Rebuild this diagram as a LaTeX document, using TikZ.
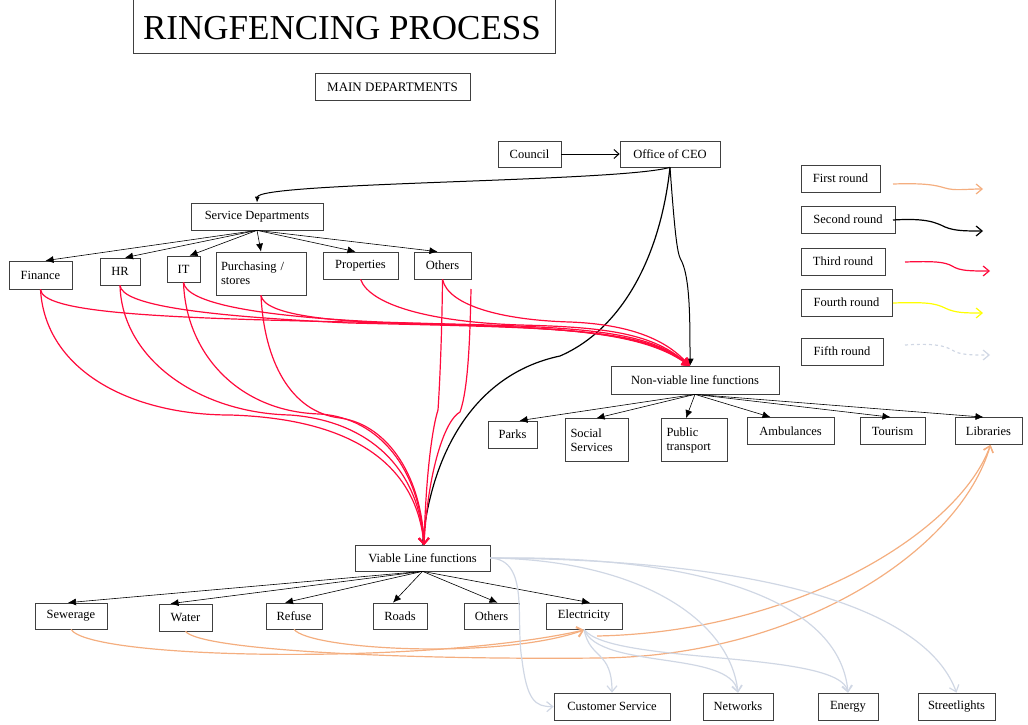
\documentclass[tikz,border=0pt]{standalone}
\usepackage{fontspec}
\setmainfont{Liberation Serif}
\usetikzlibrary{arrows.meta}
\definecolor{rcol}{HTML}{FF0A3C}
\definecolor{ocol}{HTML}{F4AE7F}
\definecolor{gcol}{HTML}{D0D7E4}
\definecolor{ycol}{HTML}{FFFF00}
\definecolor{bcol}{HTML}{404040}
\begin{document}
\begin{tikzpicture}[x=1pt,y=-1pt,
  box/.style={draw=bcol, line width=0.7pt, inner sep=2pt, font=\fontsize{12.5}{14}\selectfont, minimum height=27pt},
  tree/.style={line width=0.6pt, -{Latex[length=8pt,width=7pt]}},
  blk/.style={line width=1pt, -{Straight Barb[length=5pt,width=9pt]}},
  red/.style={rcol, line width=1.2pt},
  redv/.style={red, -{Straight Barb[length=6pt,width=10pt]}},
  redn/.style={red, -{Triangle[length=8pt,width=9pt]}},
  org/.style={ocol, line width=1.2pt, -{Straight Barb[length=6pt,width=10pt]}},
  gry/.style={gcol, line width=1.2pt, -{Straight Barb[length=6pt,width=10pt]}}]
\useasboundingbox (0,0) rectangle (1028,725);
% title
\draw[bcol, line width=0.8pt] (133,-3) -- (133,53) -- (555,53) -- (555,-3);
\node[font=\fontsize{35}{40}\selectfont] (title) at (342,28) {RINGFENCING PROCESS};
\node[box, minimum width=155, font=\fontsize{13}{15}\selectfont] (main) at (392.5,87) {MAIN DEPARTMENTS};
% top
\node[box, minimum width=63, minimum height=26] (council) at (529.5,154) {Council};
\node[box, minimum width=100, minimum height=26] (ceo) at (670,154) {Office of CEO};
\node[box, minimum width=132] (sd) at (257,216.5) {Service Departments};
\node[box, minimum width=63, minimum height=28] (fin) at (40.5,275) {Finance};
\node[box, minimum width=40] (hr) at (120,271.5) {HR};
\node[box, minimum width=33, minimum height=26] (it) at (183.5,269) {IT};
\node[box, minimum width=90, minimum height=43, text width=80pt, align=left] (pur) at (261,273.5) {Purchasing /\\stores};
\node[box, minimum width=75] (prop) at (360.5,265.5) {Properties};
\node[box, minimum width=57] (oth) at (442.5,265.5) {Others};
% non-viable
\node[box, minimum width=168, minimum height=28] (nv) at (695,380) {Non-viable line functions};
\node[box, minimum width=49] (parks) at (512.5,434.5) {Parks};
\node[box, minimum width=63, minimum height=43, text width=52pt, align=left] (soc) at (596.5,440) {Social\\Services};
\node[box, minimum width=66, minimum height=43, text width=55pt, align=left] (pub) at (694,440) {Public\\transport};
\node[box, minimum width=87] (amb) at (790.5,431) {Ambulances};
\node[box, minimum width=65] (tour) at (892.5,431) {Tourism};
\node[box, minimum width=67] (lib) at (988.5,431) {Libraries};
% viable
\node[box, minimum width=135, minimum height=26] (via) at (422.5,558) {Viable Line functions};
\node[box, minimum width=72, minimum height=26] (sew) at (71,616) {Sewerage};
\node[box, minimum width=53] (wat) at (185.5,617.5) {Water};
\node[box, minimum width=56, minimum height=26] (ref) at (294,616) {Refuse};
\node[box, minimum width=54, minimum height=26] (roads) at (400,616) {Roads};
\node[box, minimum width=55, minimum height=26] (oth2) at (491.5,616) {Others};
\node[box, minimum width=76, minimum height=26] (ele) at (584,616) {Electricity};
\node[box, minimum width=116] (cs) at (612,706.5) {Customer Service};
\node[box, minimum width=70] (net) at (738,706.5) {Networks};
\node[box, minimum width=60] (ene) at (848,706.5) {Energy};
\node[box, minimum width=77] (str) at (956.5,706.5) {Streetlights};
% legend
\node[box, minimum width=79] (l1) at (840.5,178.5) {First round};
\node[box, minimum width=94] (l2) at (848,219.5) {Second round};
\node[box, minimum width=84] (l3) at (843,261.5) {Third round};
\node[box, minimum width=91] (l4) at (846.5,302.5) {Fourth round};
\node[box, minimum width=82] (l5) at (842,351.5) {Fifth round};
\coordinate (a1s) at (893,184); \coordinate (a1e) at (983,189);
\coordinate (a2s) at (893,220); \coordinate (a2e) at (983,231);
\coordinate (a3s) at (905,262); \coordinate (a3e) at (990,271);
\coordinate (a4s) at (893,303); \coordinate (a4e) at (983,313);
\coordinate (a5s) at (905,345); \coordinate (a5e) at (990,355);
\draw[org] (a1s) .. controls (925,183) and (935,185) .. (945,188) .. controls (955,191) and (965,189) .. (a1e);
\draw[blk, line width=1.2pt, -{Straight Barb[length=6pt,width=10pt]}] (a2s) .. controls (925,218) and (935,222) .. (945,227) .. controls (955,231) and (965,231) .. (a2e);
\draw[red, -{Straight Barb[length=6pt,width=10pt]}] (a3s) .. controls (935,261) and (945,262) .. (952,266) .. controls (960,271) and (970,271) .. (a3e);
\draw[ycol, line width=1.2pt, -{Straight Barb[length=6pt,width=10pt]}] (a4s) .. controls (925,302) and (935,303) .. (945,308) .. controls (955,313) and (965,313) .. (a4e);
\draw[gcol, line width=1.2pt, dashed, -{Straight Barb[length=6pt,width=10pt]}] (a5s) .. controls (935,343) and (945,346) .. (952,350) .. controls (960,355) and (970,355) .. (a5e);
% black connectors
\draw[blk] (council) -- (ceo);
\draw[line width=1pt, -{Latex[length=6pt,width=5pt]}] (ceo.south) .. controls (620,182) and (258,182) .. (sd.north);
\draw[line width=1pt, -{Triangle[length=7pt,width=7pt]}] (ceo.south) .. controls (676,250) and (678,255) .. (682,262) .. controls (690,280) and (690,320) .. ([xshift=-5pt]nv.north);
\draw[line width=1.2pt] (ceo.south) .. controls (660,260) and (620,330) .. (560,356) .. controls (470,375) and (430,460) .. (via.north);
% tree arrows
\draw[tree] (sd.south) -- ([xshift=5pt]fin.north);
\draw[tree] (sd.south) -- ([xshift=5pt]hr.north);
\draw[tree] (sd.south) -- ([xshift=6pt]it.north);
\draw[tree] (sd.south) -- (pur.north);
\draw[tree] (sd.south) -- ([xshift=-5pt]prop.north);
\draw[tree] (sd.south) -- ([xshift=-5pt]oth.north);
\draw[tree] (nv.south) -- ([xshift=7pt]parks.north);
\draw[tree] (nv.south) -- (soc.north);
\draw[tree] (nv.south) -- ([xshift=-8pt]pub.north);
\draw[tree] (nv.south) -- ([xshift=-20pt]amb.north);
\draw[tree] (nv.south) -- ([xshift=-2pt]tour.north);
\draw[tree] (nv.south) -- ([xshift=-5pt]lib.north);
\draw[tree] (via.south) -- ([xshift=-3pt]sew.north);
\draw[tree] (via.south) -- ([xshift=-15pt]wat.north);
\draw[tree] (via.south) -- ([xshift=-9pt]ref.north);
\draw[tree] (via.south) -- ([xshift=-7pt]roads.north);
\draw[tree] (via.south) -- ([xshift=6pt]oth2.north);
\draw[tree] (via.south) -- ([xshift=6pt]ele.north);
% red connectors to non-viable
\coordinate (nvin) at (690,366);
\draw[redn] (fin.south) .. controls (42,312) and (150,318) .. (350,322) .. controls (560,326) and (640,326) .. (nvin);
\draw[redn] (hr.south) .. controls (122,305) and (200,316) .. (350,323) .. controls (560,328) and (640,328) .. (nvin);
\draw[redn] (it.south) .. controls (186,302) and (250,316) .. (380,322) .. controls (560,328) and (640,330) .. (nvin);
\draw[redn] (pur.south) .. controls (264,315) and (330,322) .. (420,324) .. controls (560,327) and (640,332) .. (nvin);
\draw[redn] (prop.south) .. controls (370,305) and (430,322) .. (520,325) .. controls (600,327) and (650,332) .. (nvin);
\draw[redn] (oth.south) .. controls (448,305) and (500,320) .. (570,322) .. controls (620,324) and (660,335) .. (nvin);
% red connectors to viable
\coordinate (vin) at (424,545);
\coordinate (stray) at (471,289);
\draw[redv] (fin.south) .. controls (45,370) and (130,415) .. (230,415) .. controls (330,418) and (415,450) .. (vin);
\draw[redv] (hr.south) .. controls (122,360) and (200,413) .. (290,415) .. controls (360,420) and (418,460) .. (vin);
\draw[redv] (it.south) .. controls (186,355) and (240,412) .. (320,414) .. controls (380,418) and (420,470) .. (vin);
\draw[redv] (pur.south) .. controls (264,360) and (290,412) .. (340,418) .. controls (390,425) and (422,480) .. (vin);
\draw[redv] (oth.south) .. controls (442,330) and (440,380) .. (438,410) .. controls (433,425) and (426,470) .. (vin);
\draw[redv] (stray) .. controls (470,340) and (468,390) .. (460,412) .. controls (445,420) and (428,470) .. (vin);
% orange connectors
\coordinate (ein) at (584,630);
\coordinate (estart) at (597,636);
\draw[org] (sew.south) .. controls (90,660) and (430,665) .. (ein);
\draw[org] (ref.south) .. controls (310,650) and (500,660) .. (ein);
\draw[org] (wat.south) .. controls (200,650) and (400,660) .. (600,658) .. controls (800,656) and (960,550) .. ([xshift=2pt]lib.south);
\draw[org] (estart) .. controls (800,632) and (960,530) .. ([xshift=2pt]lib.south);
% gray connectors
\draw[gry] (via.east) .. controls (530,560) and (515,620) .. (522,660) .. controls (527,700) and (535,707) .. (cs.west);
\draw[gry] (via.east) .. controls (640,560) and (730,620) .. (net.north);
\draw[gry] (via.east) .. controls (700,555) and (840,600) .. (ene.north);
\draw[gry] (via.east) .. controls (800,560) and (930,620) .. (str.north);
\draw[gry] (ele.south) .. controls (590,660) and (612,650) .. (cs.north);
\draw[gry] (ele.south) .. controls (600,670) and (730,650) .. (net.north);
\draw[gry] (ele.south) .. controls (610,665) and (840,650) .. (ene.north);
\end{tikzpicture}
\end{document}
